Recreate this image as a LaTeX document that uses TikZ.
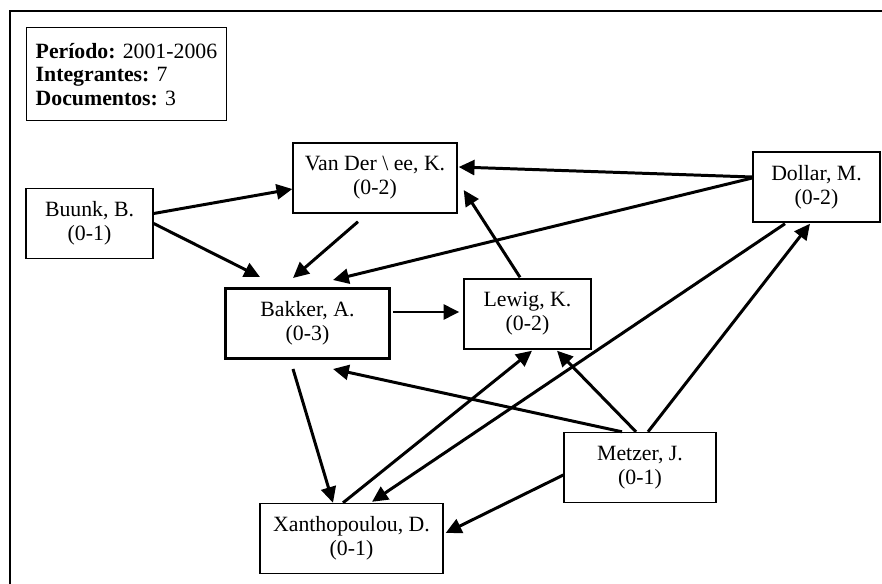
\documentclass[tikz,border=0pt]{standalone}
\usepackage{fontspec}
\setmainfont{Liberation Serif}
\usetikzlibrary{arrows.meta}
\frenchspacing

\begin{document}
\begin{tikzpicture}[x=0.02cm,y=-0.02cm,
    >={Triangle[length=9pt,width=8.5pt]},
    autor/.style={draw,line width=0.8pt,align=center,inner sep=0pt,
        minimum height=1.4cm,font=\fontsize{12.4}{13.6}\selectfont},
    enlace/.style={->,line width=1.7pt}]
    \useasboundingbox (0,0) rectangle (882,584);
    \draw[line width=1.1pt] (10,584) -- (10,11) -- (882,11);

    \node[draw,line width=0.8pt,anchor=north west,align=left,text width=3.64cm,
        inner xsep=0.18cm,minimum height=1.86cm,
        font=\fontsize{12.4}{13.4}\selectfont] (leg) at (26,27)
        {\textbf{Período:} 2001-2006\\\textbf{Integrantes:} 7\\\textbf{Documentos:} 3};

    \node[autor,minimum width=3.28cm] (vdw) at (375,178) {Van Der \textbackslash{} ee, K.\\(0-2)};
    \node[autor,minimum width=2.54cm] (buu) at (89.5,223.5) {Buunk, B.\\(0-1)};
    \node[autor,minimum width=2.54cm] (dol) at (816.5,187) {Dollar, M.\\(0-2)};
    \node[autor,minimum width=3.3cm,line width=1.7pt] (bak) at (307.5,323.5) {Bakker, A.\\(0-3)};
    \node[autor,minimum width=2.54cm] (lew) at (527.5,314) {Lewig, K.\\(0-2)};
    \node[autor,minimum width=3.04cm] (met) at (640,467.5) {Metzer, J.\\(0-1)};
    \node[autor,minimum width=3.66cm] (xan) at (351.5,538.5) {Xanthopoulou, D.\\(0-1)};

    \draw[enlace] ([shift={(0,-10)}]buu.east) -- ([shift={(0,11)}]vdw.west);
    \draw[enlace] (buu.east) -- ([shift={(-47.5,-10)}]bak.north);
    \draw[enlace] ([shift={(-17,8)}]vdw.south) -- ([shift={(-14.5,-9)}]bak.north);
    \draw[enlace] ([shift={(0,-10)}]dol.west) -- ([shift={(1,-11)}]vdw.east);
    \draw[enlace] ([shift={(0,-9)}]dol.west) -- ([shift={(25.5,-7)}]bak.north);
    \draw[enlace] ([shift={(2,-11.5)}]bak.east) -- ([shift={(-4,-2)}]lew.west);
    \draw[enlace] ([shift={(-7.5,-1)}]lew.north) -- ([shift={(6,12)}]vdw.east);
    \draw[enlace] ([shift={(-14.5,9)}]bak.south) -- ([shift={(-18.5,0)}]xan.north);
    \draw[enlace] ([shift={(-8.5,0)}]xan.north) -- ([shift={(4.5,1)}]lew.south);
    \draw[enlace] ([shift={(-31.5,1)}]dol.south) -- ([shift={(20.5,-1)}]xan.north);
    \draw[enlace] ([shift={(-18,0)}]met.north) -- ([shift={(25.5,9)}]bak.south);
    \draw[enlace] ([shift={(-4,0)}]met.north) -- ([shift={(29.5,1)}]lew.south);
    \draw[enlace] ([shift={(8,0)}]met.north) -- ([shift={(-6.5,1)}]dol.south);
    \draw[enlace] ([shift={(0,7.5)}]met.west) -- ([shift={(2,-5.5)}]xan.east);
\end{tikzpicture}
\end{document}
